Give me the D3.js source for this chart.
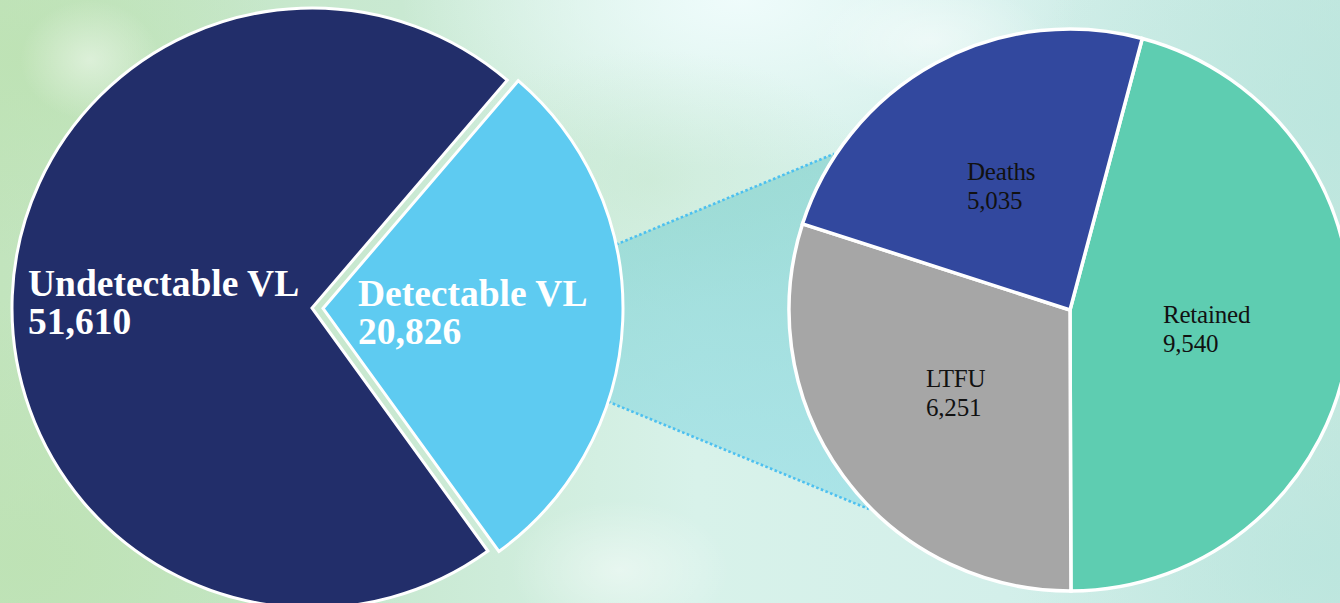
<!DOCTYPE html>
<html>
<head>
<meta charset="utf-8">
<script src="https://cdn.jsdelivr.net/npm/d3@7"></script>
<style>
  html, body { margin: 0; padding: 0; overflow: hidden; background: #d4eee4; }
  svg { display: block; }
</style>
</head>
<body>
<svg id="chart" width="1340" height="603"></svg>
<script>
// Viral load results among people tested
const vlCategories = ["Detectable VL", "Undetectable VL"];
const vlValues = [20826, 51610];

// Breakdown of the detectable group
const outcomeCategories = ["Retained", "LTFU", "Deaths"];
const outcomeValues = [9540, 6251, 5035];

const vlColors = ["#5ecbf1", "#222e6a"];
const outcomeColors = ["#5ecdb1", "#a6a6a6", "#32489e"];

const W = 1340, H = 603;
const svg = d3.select("#chart");
const deg = Math.PI / 180;
const fmt = d3.format(",");

// ---- background ----------------------------------------------------------
const defs = svg.append("defs");
const base = defs.append("linearGradient").attr("id", "bgBase")
  .attr("x1", 0).attr("y1", 0).attr("x2", 1).attr("y2", 0);
[["0%", "#c2e4bd"], ["30%", "#c9e9d2"], ["52%", "#d8f2ea"], ["75%", "#d3efea"], ["100%", "#c4e8df"]]
  .forEach(([o, c]) => base.append("stop").attr("offset", o).attr("stop-color", c));

function radial(id, color, op) {
  const g = defs.append("radialGradient").attr("id", id);
  g.append("stop").attr("offset", "0%").attr("stop-color", color).attr("stop-opacity", op);
  g.append("stop").attr("offset", "100%").attr("stop-color", color).attr("stop-opacity", 0);
}
radial("glowTop", "#f0fcfc", 0.95);
radial("glowGreen", "#bde2b3", 0.8);
radial("glowSoft", "#c2e4c6", 0.4);
radial("glowTeal", "#b9e5de", 0.7);
radial("bokeh", "#ffffff", 0.45);

svg.append("rect").attr("width", W).attr("height", H).attr("fill", "url(#bgBase)");
const glows = [
  { cx: 740, cy: 0, rx: 340, ry: 170, f: "glowTop" },
  { cx: 30, cy: 560, rx: 380, ry: 260, f: "glowGreen" },
  { cx: 20, cy: 60, rx: 260, ry: 200, f: "glowGreen" },
  { cx: 650, cy: 180, rx: 220, ry: 130, f: "glowSoft" },
  { cx: 1320, cy: 120, rx: 300, ry: 260, f: "glowTeal" },
  { cx: 1320, cy: 560, rx: 300, ry: 200, f: "glowTeal" },
  { cx: 620, cy: 570, rx: 110, ry: 70, f: "bokeh" },
  { cx: 90, cy: 60, rx: 70, ry: 60, f: "bokeh" },
  { cx: 930, cy: 40, rx: 120, ry: 60, f: "bokeh" }
];
svg.append("g").selectAll("ellipse").data(glows).join("ellipse")
  .attr("cx", d => d.cx).attr("cy", d => d.cy)
  .attr("rx", d => d.rx).attr("ry", d => d.ry)
  .attr("fill", d => `url(#${d.f})`);

// ---- geometry ------------------------------------------------------------
const left = { cx: 312, cy: 308, r: 300, explode: 11 };
const right = { cx: 1070, cy: 310, r: 281 };

const vlPie = d3.pie().sort(null).value(d => d.value)
  .startAngle(40.6 * deg).endAngle(40.6 * deg + 2 * Math.PI);
const vlArcs = vlPie(vlCategories.map((c, i) => ({ name: c, value: vlValues[i], color: vlColors[i] })));

const outPie = d3.pie().sort(null).value(d => d.value)
  .startAngle(14.9 * deg).endAngle(14.9 * deg + 2 * Math.PI);
const outArcs = outPie(outcomeCategories.map((c, i) => ({ name: c, value: outcomeValues[i], color: outcomeColors[i] })));

const vlArc = d3.arc().innerRadius(0).outerRadius(left.r);
const outArc = d3.arc().innerRadius(0).outerRadius(right.r);

// exploded slice is the detectable one
function sliceOffset(a, i) {
  if (i !== 0) return [0, 0];
  const mid = (a.startAngle + a.endAngle) / 2;
  return [left.explode * Math.sin(mid), -left.explode * Math.cos(mid)];
}
const det = vlArcs[0];
const detOff = sliceOffset(det, 0);
const detCx = left.cx + detOff[0], detCy = left.cy + detOff[1];

// point on a circle using d3's clockwise-from-top angle convention
const polar = (cx, cy, r, a) => [cx + r * Math.sin(a * deg), cy - r * Math.cos(a * deg)];

// ---- connector band between the exploded slice and the breakdown pie ------
const pL1 = polar(detCx, detCy, left.r, 77.7);
const pL2 = polar(detCx, detCy, left.r, 108.1);
const pR1 = polar(right.cx, right.cy, right.r + 2, 303.5);
const pR2 = polar(right.cx, right.cy, right.r + 2, 225.3);

const bandGrad = defs.append("linearGradient").attr("id", "band")
  .attr("x1", 0).attr("y1", 0).attr("x2", 0).attr("y2", 1);
bandGrad.append("stop").attr("offset", "0%").attr("stop-color", "#86d3cf").attr("stop-opacity", 0.7);
bandGrad.append("stop").attr("offset", "100%").attr("stop-color", "#8edbe6").attr("stop-opacity", 0.6);

svg.append("path")
  .attr("d", d3.line()([pL1, pR1, [right.cx - right.r + 40, right.cy], pR2, pL2]) + "Z")
  .attr("fill", "url(#band)");

svg.append("g").selectAll("line").data([[pL1, pR1], [pL2, pR2]]).join("line")
  .attr("x1", d => d[0][0]).attr("y1", d => d[0][1])
  .attr("x2", d => d[1][0]).attr("y2", d => d[1][1])
  .attr("stroke", "#4dc0f0").attr("stroke-width", 2.6)
  .attr("stroke-dasharray", "2.6,2.4");

// ---- left pie ------------------------------------------------------------
const gL = svg.append("g").attr("transform", `translate(${left.cx},${left.cy})`);
gL.selectAll("path").data(vlArcs).join("path")
  .attr("transform", (d, i) => `translate(${sliceOffset(d, i)})`)
  .attr("d", vlArc)
  .attr("fill", d => d.data.color)
  .attr("stroke", "#ffffff").attr("stroke-width", 3)
  .attr("stroke-linejoin", "miter");

// label anchors relative to each pie's centre
const vlLabelPos = { "Detectable VL": [46, -2], "Undetectable VL": [-284, -12] };
const gLT = gL.append("g")
  .attr("font-family", "'Liberation Serif', 'Times New Roman', serif")
  .attr("font-weight", "bold").attr("font-size", 37.5).attr("fill", "#ffffff");
vlArcs.forEach(a => {
  const [x, y] = vlLabelPos[a.data.name];
  const t = gLT.append("text").attr("x", x).attr("y", y);
  t.append("tspan").attr("x", x).text(a.data.name);
  t.append("tspan").attr("x", x).attr("dy", 38).text(fmt(a.data.value));
});

// ---- right pie -----------------------------------------------------------
const gR = svg.append("g").attr("transform", `translate(${right.cx},${right.cy})`);
gR.selectAll("path").data(outArcs).join("path")
  .attr("d", outArc)
  .attr("fill", d => d.data.color)
  .attr("stroke", "#ffffff").attr("stroke-width", 3.5);

const outLabelPos = { "Retained": [93, 13], "LTFU": [-144, 77], "Deaths": [-103, -130] };
const gRT = gR.append("g")
  .attr("font-family", "'Liberation Serif', 'Times New Roman', serif")
  .attr("font-size", 25).attr("letter-spacing", -0.2).attr("fill", "#111111");
outArcs.forEach(a => {
  const [x, y] = outLabelPos[a.data.name];
  const t = gRT.append("text").attr("x", x).attr("y", y);
  t.append("tspan").attr("x", x).text(a.data.name);
  t.append("tspan").attr("x", x).attr("dy", 29).text(fmt(a.data.value));
});
</script>
</body>
</html>
